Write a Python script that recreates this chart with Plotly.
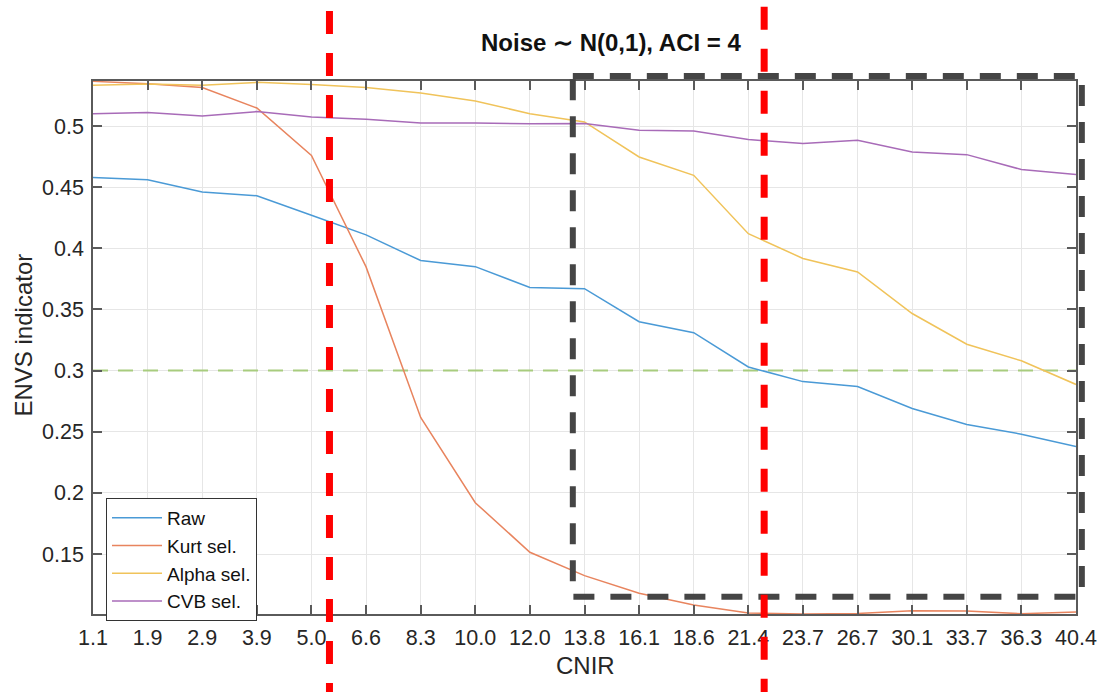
import plotly.graph_objects as go

# ---------------- data ----------------
cnir_labels = ["1.1", "1.9", "2.9", "3.9", "5.0", "6.6", "8.3", "10.0", "12.0", "13.8",
               "16.1", "18.6", "21.4", "23.7", "26.7", "30.1", "33.7", "36.3", "40.4"]
raw = [0.458, 0.456, 0.446, 0.443, 0.427, 0.411, 0.390, 0.385, 0.368, 0.367,
       0.340, 0.331, 0.303, 0.291, 0.287, 0.269, 0.256, 0.248, 0.238]
kurt = [0.5365, 0.5346, 0.5314, 0.5147, 0.476, 0.3848, 0.2617, 0.192, 0.1515, 0.1324,
        0.118, 0.1083, 0.1018, 0.101, 0.1014, 0.1037, 0.1035, 0.1012, 0.1027]
alpha = [0.5333, 0.5343, 0.5333, 0.5357, 0.534, 0.5314, 0.527, 0.5204, 0.5101, 0.5033,
         0.4747, 0.4597, 0.412, 0.3917, 0.3807, 0.3467, 0.3216, 0.308, 0.2887]
cvb = [0.5101, 0.511, 0.5082, 0.5118, 0.5074, 0.5055, 0.5025, 0.5025, 0.5018, 0.502,
       0.4965, 0.496, 0.489, 0.4856, 0.4883, 0.4788, 0.4766, 0.4644, 0.4603]
series_names = ["Raw", "Kurt sel.", "Alpha sel.", "CVB sel."]
y_tickvals = [0.15, 0.2, 0.25, 0.3, 0.35, 0.4, 0.45, 0.5]
y_ticktext = ["0.15", "0.2", "0.25", "0.3", "0.35", "0.4", "0.45", "0.5"]
threshold = 0.3
red_marks_idx = [4.33, 12.29]          # positions on the CNIR index axis
zoom_box = dict(x0=8.786, x1=18.107, y0=0.5408, y1=0.1152)  # index / value units

# ---------------- style ----------------
W, H = 1097, 692
ML, MR, MT, MB = 93, 21, 81, 78
YR = [0.101, 0.5368]
XR = [0, len(cnir_labels) - 1]
FONT = "Liberation Sans, Arial, Helvetica, sans-serif"
colors = ["#4a9ad6", "#e8845e", "#f0c35a", "#a86bb8"]
AX = "#5a5a5a"
GRID = "#e6e6e6"

pw = W - ML - MR
ph = H - MT - MB


def xp(idx):
    return (idx - XR[0]) / (XR[1] - XR[0])


def yp(v):
    return (v - YR[0]) / (YR[1] - YR[0])


def py2paper(py):
    return (H - MB - py) / ph


x_idx = list(range(len(cnir_labels)))

fig = go.Figure()
# threshold reference line (drawn first, beneath the series)
fig.add_trace(go.Scatter(x=[XR[0], XR[1]], y=[threshold, threshold], mode="lines",
                         showlegend=False, hoverinfo="skip",
                         line=dict(color="#a8cc7e", width=2, dash="15px,10px")))
for name, vals, c in zip(series_names, [raw, kurt, alpha, cvb], colors):
    fig.add_trace(go.Scatter(x=x_idx, y=vals, mode="lines", name=name,
                             line=dict(color=c, width=1.5)))

shapes = []
# zoom rectangle
shapes.append(dict(type="rect", xref="paper", yref="paper",
                   x0=xp(zoom_box["x0"]), x1=xp(zoom_box["x1"]),
                   y0=yp(zoom_box["y0"]), y1=yp(zoom_box["y1"]),
                   line=dict(color="#454545", width=6, dash="21px,16px"), layer="above"))
# red vertical markers
for idx, top_px in zip(red_marks_idx, [11, 6.7]):
    shapes.append(dict(type="line", xref="paper", yref="paper",
                       x0=xp(idx), x1=xp(idx), y0=py2paper(top_px), y1=py2paper(H + 5),
                       line=dict(color="#ff0000", width=7, dash="23px,19px"), layer="above"))

annotations = [
    dict(text="Noise \u223c N(0,1), ACI = 4", xref="paper", yref="paper",
         x=(611 - ML) / pw, y=py2paper(43), showarrow=False,
         font=dict(family=FONT, size=24, color="#111111", weight="bold"),
         xanchor="center", yanchor="middle"),
    dict(text="ENVS indicator", xref="paper", yref="paper",
         x=(22.5 - ML) / pw, y=py2paper(335), showarrow=False, textangle=-90,
         font=dict(family=FONT, size=24, color="#262626"),
         xanchor="center", yanchor="middle"),
    dict(text="CNIR", xref="paper", yref="paper",
         x=(585 - ML) / pw, y=py2paper(665), showarrow=False,
         font=dict(family=FONT, size=24, color="#262626"),
         xanchor="center", yanchor="middle"),
]

fig.update_layout(
    width=W, height=H, autosize=False,
    margin=dict(l=ML, r=MR, t=MT, b=MB, pad=0, autoexpand=False),
    paper_bgcolor="white", plot_bgcolor="white",
    font=dict(family=FONT, color="#262626"),
    shapes=shapes, annotations=annotations,
    showlegend=True,
    legend=dict(x=(106 - ML) / pw, y=py2paper(498), xanchor="left", yanchor="top",
                bgcolor="white", bordercolor="#333333", borderwidth=1,
                font=dict(family=FONT, size=19, color="#111111"),
                itemwidth=50, tracegroupgap=0),
)
fig.update_xaxes(range=XR, tickmode="array", tickvals=x_idx, ticktext=cnir_labels,
                 automargin=False, ticklabelstandoff=3,
                 showgrid=True, gridcolor=GRID, gridwidth=1, zeroline=False,
                 showline=True, linecolor=AX, linewidth=1.5, mirror="ticks",
                 ticks="inside", ticklen=9, tickcolor=AX, tickwidth=1.5,
                 tickfont=dict(family=FONT, size=21.5, color="#262626"))
fig.update_yaxes(range=YR, tickmode="array", tickvals=y_tickvals, ticktext=y_ticktext,
                 automargin=False, ticklabelstandoff=3,
                 showgrid=True, gridcolor=GRID, gridwidth=1, zeroline=False,
                 showline=True, linecolor=AX, linewidth=1.5, mirror="ticks",
                 ticks="inside", ticklen=9, tickcolor=AX, tickwidth=1.5,
                 tickfont=dict(family=FONT, size=21.5, color="#262626"))

fig.write_html("out.html")
